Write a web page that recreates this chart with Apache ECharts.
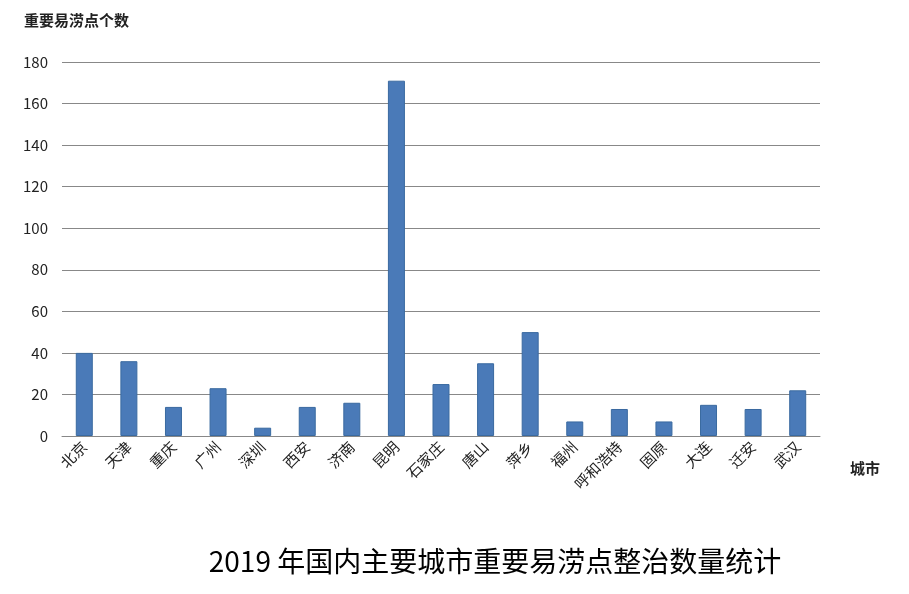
<!DOCTYPE html>
<html><head><meta charset="utf-8">
<script src="https://cdn.jsdelivr.net/npm/echarts@6/dist/echarts.min.js"></script>
<style>html,body{margin:0;padding:0;background:#fff}#c{width:909px;height:594px}</style>
</head><body><div id="c"></div>
<script>
const cities = ['北京','天津','重庆','广州','深圳','西安','济南','昆明','石家庄','唐山','萍乡','福州','呼和浩特','固原','大连','迁安','武汉'];
const counts = [40,36,14,23,4,14,16,171,25,35,50,7,13,7,15,13,22];
const yTicks = [0,20,40,60,80,100,120,140,160,180];
const font = '"Noto Sans CJK SC", sans-serif';
const chart = echarts.init(document.getElementById('c'));
chart.setOption({
  animation:false,
  title:{text:'2019 年国内主要城市重要易涝点整治数量统计',left:490,top:542,textAlign:'center',
    textStyle:{fontFamily:font,fontSize:28,fontWeight:'normal',color:'#000'}},
  grid:{left:62,right:89,top:62,bottom:158},
  xAxis:{type:'category',data:cities,
    axisLine:{lineStyle:{color:'#888'}},axisTick:{show:false},
    axisLabel:{rotate:45,fontFamily:font,fontSize:15,color:'#222',margin:8,interval:0},
    name:'城市',nameLocation:'end',nameGap:30,
    nameTextStyle:{fontFamily:font,fontSize:15,fontWeight:'bold',color:'#222',verticalAlign:'top',padding:[25,0,0,0]}},
  yAxis:{type:'value',min:yTicks[0],max:yTicks[yTicks.length-1],interval:20,
    axisLine:{show:false},axisTick:{show:false},
    splitLine:{lineStyle:{color:'#888',width:1}},
    axisLabel:{fontFamily:font,fontSize:15,color:'#222',margin:14},
    name:'重要易涝点个数',nameLocation:'end',nameGap:34,
    nameTextStyle:{fontFamily:font,fontSize:15,fontWeight:'bold',color:'#222',align:'left',padding:[0,0,0,-38]}},
  series:[{type:'bar',data:counts,barWidth:17,
    itemStyle:{color:'#4a7ab8',borderColor:'#3a6aa0',borderWidth:1}}]
});
</script></body></html>
